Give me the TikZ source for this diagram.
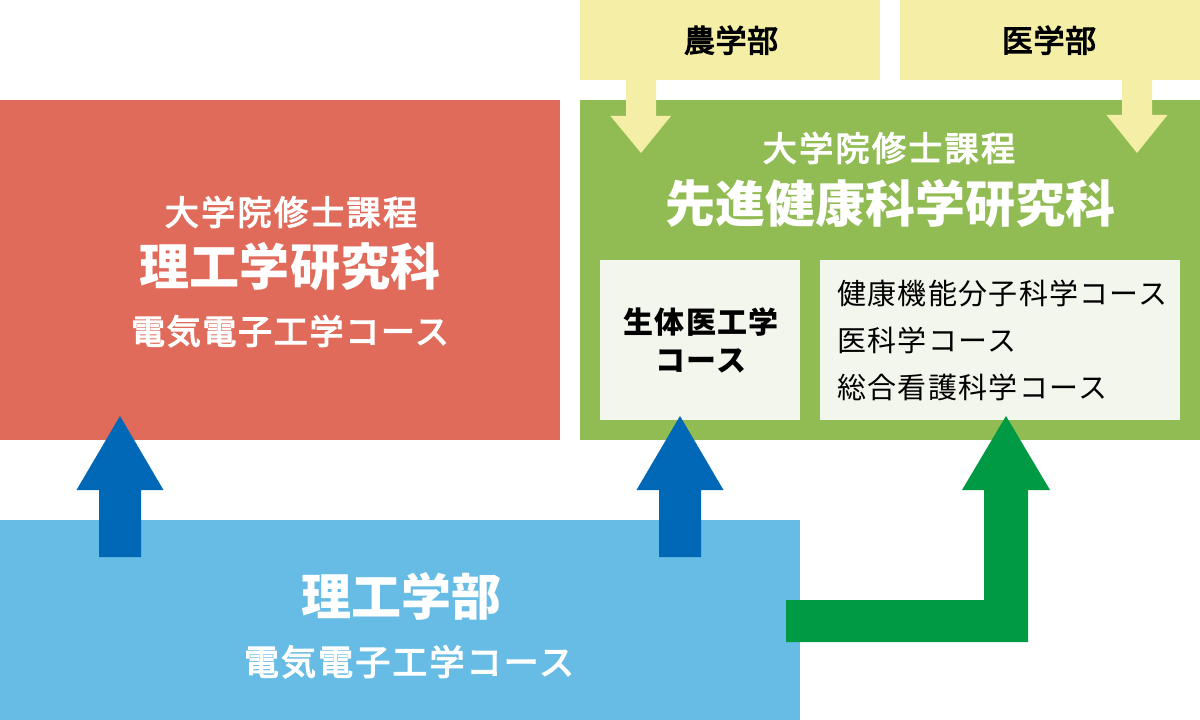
\documentclass[tikz,border=0pt]{standalone}
\usepackage{fontspec}
\setmainfont{Noto Sans CJK JP}
\definecolor{redc}{HTML}{E06B5B}
\definecolor{greenc}{HTML}{91BB53}
\definecolor{yellowc}{HTML}{F4EEA6}
\definecolor{bluec}{HTML}{66BCE4}
\definecolor{innerc}{HTML}{F3F6EC}
\definecolor{darkblue}{HTML}{0068B7}
\definecolor{arrowgreen}{HTML}{009A44}
\newcommand\fsz[2]{\fontsize{#1bp}{#1bp}\selectfont\addfontfeature{LetterSpace=#2}}
\newcommand\fszm[2]{\fontsize{#1bp}{#1bp}\selectfont\addfontfeature{LetterSpace=#2,FakeBold=3.5}}
\begin{document}
\begin{tikzpicture}[x=1bp,y=-1bp,
  box/.style={draw=none,inner sep=0pt,outer sep=0pt},
  txt/.style={anchor=base,inner sep=0pt,text=white},
  dtxt/.style={anchor=base,inner sep=0pt,text=black}]
\useasboundingbox (0,0) rectangle (1200,720);
% boxes
\node[box,fill=redc,minimum width=560bp,minimum height=340bp] (red) at (280,270) {};
\node[box,fill=greenc,minimum width=620bp,minimum height=340bp] (green) at (890,270) {};
\node[box,fill=yellowc,minimum width=300bp,minimum height=80bp] (agri) at (730,40) {};
\node[box,fill=yellowc,minimum width=300bp,minimum height=80bp] (med) at (1050,40) {};
\node[box,fill=bluec,minimum width=800bp,minimum height=200bp] (blue) at (400,620) {};
\node[box,fill=innerc,minimum width=200bp,minimum height=160bp] (bio) at (700,340) {};
\node[box,fill=innerc,minimum width=360bp,minimum height=160bp] (list) at (1000,340) {};
% yellow arrows
\fill[yellowc] (626,80) -- (656,80) -- (656,116) -- (671,116) -- (641,153) -- (610.5,116) -- (626,116) -- cycle;
\fill[yellowc] (1122,80) -- (1152,80) -- (1152,115) -- (1167.5,115) -- (1137,153) -- (1106.5,115) -- (1122,115) -- cycle;
% blue arrows
\fill[darkblue] (120,416) -- (163.5,490) -- (141,490) -- (141,557) -- (99,557) -- (99,490) -- (76.5,490) -- cycle;
\fill[darkblue] (680,416) -- (723.5,490) -- (701,490) -- (701,557) -- (659,557) -- (659,490) -- (636.5,490) -- cycle;
% green arrow
\fill[arrowgreen] (786,600) -- (984,600) -- (984,490) -- (962,490) -- (1006,416) -- (1050,490) -- (1028,490) -- (1028,642) -- (786,642) -- cycle;
% texts
\node[dtxt] (t1) at (731,52) {\fszm{31}{2}農学部};
\node[dtxt] (t2) at (1049,52) {\fszm{31}{2}医学部};
\node[txt] (t3) at (889,161) {\fszm{34}{7}大学院修士課程};
\node[txt] (t4) at (890,223) {\bfseries\fsz{50}{0}先進健康科学研究科};
\node[txt] (t5) at (291,225) {\fszm{34}{7}大学院修士課程};
\node[txt] (t6) at (290,285) {\bfseries\fsz{50}{0}理工学研究科};
\node[txt] (t7) at (290,344) {\fszm{34}{5}電気電子工学コース};
\node[dtxt] (t8) at (701,333) {\bfseries\fsz{30}{4}生体医工学};
\node[dtxt] (t9) at (701,371) {\bfseries\fsz{30}{4}コース};
\node[dtxt,anchor=base west] (t10) at (837,304) {\fsz{29}{4.5}健康機能分子科学コース};
\node[dtxt,anchor=base west] (t11) at (837,351) {\fsz{29}{4.5}医科学コース};
\node[dtxt,anchor=base west] (t12) at (837,398) {\fsz{29}{4.5}総合看護科学コース};
\node[txt] (t13) at (401,615) {\bfseries\fsz{50}{0}理工学部};
\node[txt] (t14) at (409,675) {\fszm{35}{6}電気電子工学コース};
\end{tikzpicture}
\end{document}
